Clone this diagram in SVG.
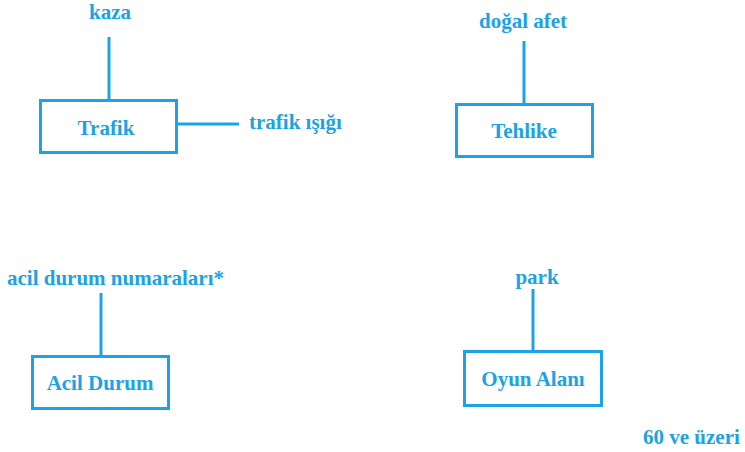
<svg xmlns="http://www.w3.org/2000/svg" width="745" height="452" viewBox="0 0 745 452">
<style>
.box{fill:#fff;stroke:#1ba3e6;stroke-width:3}
.ln{stroke:#1ba3e6;stroke-width:3;fill:none}
text{font-family:"Liberation Serif","Times New Roman",serif;font-weight:bold;font-size:21px;fill:#1ba3e6}
.c{text-anchor:middle}
</style>
<rect width="745" height="452" fill="#fff"/>
<g id="connectors">
<line class="ln" x1="109" y1="37" x2="109" y2="100"/>
<line class="ln" x1="176" y1="124" x2="239" y2="124"/>
<line class="ln" x1="524" y1="41" x2="524" y2="104"/>
<line class="ln" x1="101" y1="293" x2="101" y2="356"/>
<line class="ln" x1="533" y1="289" x2="533" y2="351"/>
</g>
<g id="trafik"><rect class="box" x="40.5" y="100.5" width="136" height="52"/><text class="c" x="106" y="135">Trafik</text></g>
<g id="kaza"><text class="c" x="110" y="19">kaza</text></g>
<g id="trafik-isigi"><text x="249" y="129">trafik ışığı</text></g>
<g id="tehlike"><rect class="box" x="456.5" y="104.5" width="136" height="52"/><text class="c" x="524" y="138">Tehlike</text></g>
<g id="dogal-afet"><text class="c" x="523" y="28">doğal afet</text></g>
<g id="acil-durum"><rect class="box" x="32.5" y="356.5" width="136" height="52"/><text class="c" x="100" y="390">Acil Durum</text></g>
<g id="acil-durum-numaralari"><text x="7" y="285">acil durum numaraları*</text></g>
<g id="oyun-alani"><rect class="box" x="464.5" y="351.5" width="137" height="54"/><text class="c" x="533" y="386">Oyun Alanı</text></g>
<g id="park"><text class="c" x="537" y="284">park</text></g>
<g id="60-ve-uzeri"><text x="643" y="444">60 ve üzeri</text></g>
</svg>
